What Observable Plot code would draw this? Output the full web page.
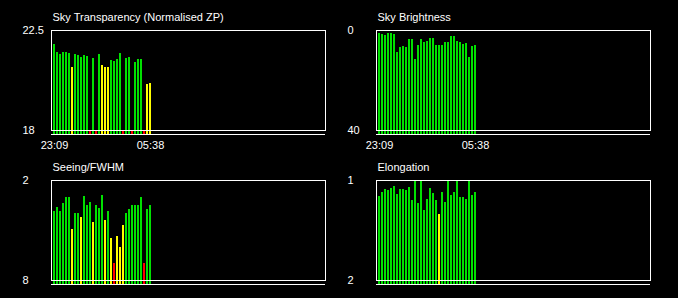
<!DOCTYPE html>
<html><head><meta charset="utf-8">
<script src="https://cdn.jsdelivr.net/npm/d3@7"></script>
<script src="https://cdn.jsdelivr.net/npm/@observablehq/plot@0.6"></script>
<style>
html,body{margin:0;padding:0;background:#000;width:678px;height:298px;overflow:hidden}
#wrap{position:relative;width:678px;height:298px}
.panel{position:absolute}
</style></head><body><div id="wrap"></div>
<script>
// time labels placed at bar index
const xTickIndex = [0, 32];
const xTickLabels = ["23:09", "05:38"];

const transparency = [21.87,21.51,21.42,21.51,21.51,21.47,20.84,21.42,21.37,21.29,21.37,21.33,18,21.24,18,21.42,20.93,20.84,20.84,21.15,21.11,21.2,21.47,18,21.24,21.29,18,21.06,21.2,21.2,18,20.07,20.12];
const transparencyStatus = "GGGGGGYGGGGGRGRGYYYGGGGRGGRGGGRYY".split("");

const brightness = [1.1,1.5,1.9,1.1,1.1,1.5,8.7,6.7,6.3,6.7,3.5,3.5,11.5,5.9,3.5,4.7,4.3,3.1,3.1,5.9,5.9,5.9,4.7,4.7,2.3,2.3,4.3,4.7,5.5,5.1,10.7,6.3,5.9];
const brightnessStatus = "GGGGGGGGGGGGGGGGGGGGGGGGGGGGGGGGG".split("");

const seeing = [3.86,3.62,3.86,3.38,3.02,3.02,4.94,3.98,3.98,4.22,2.96,3.5,3.32,4.52,3.5,3.68,2.9,4.4,3.86,5.48,6.98,5.36,6.02,4.7,3.98,3.74,3.5,3.5,3.5,3.02,6.98,3.74,3.5];
const seeingStatus = "GGGGGGYGGYGGGYGGGYGYRYYYGGGGGGRGG".split("");

const elongation = [1.16,1.12,1.09,1.10,1.08,1.06,1.14,1.09,1.09,1.10,1.07,1.20,1.00,1.23,1.00,1.30,1.19,1.08,1.13,1.20,1.34,1.12,1.22,1.00,1.15,1.12,1.00,1.17,1.17,1.19,1.00,1.15,1.12];
const elongationStatus = "GGGGGGGGGGGGGGGGGGGGYGGGGGGGGGGGG".split("");

const titles = ["Sky Transparency (Normalised ZP)", "Sky Brightness", "Seeing/FWHM", "Elongation"];
// [bottom value, top value]
const yRanges = [[18, 22.5], [40, 0], [8, 2], [2, 1]];
const yTickLabels = [["18", "22.5"], ["40", "0"], ["8", "2"], ["2", "1"]];

const statusColors = {domain: ["G", "Y", "R"], range: ["#00e000", "#ffff00", "#ff0000"]};

const series = [
  [transparency, transparencyStatus],
  [brightness, brightnessStatus],
  [seeing, seeingStatus],
  [elongation, elongationStatus]
];

const wrap = document.getElementById("wrap");
const xDom = [-1, 90.33];
const font = "Arial, 'Liberation Sans', sans-serif";

series.forEach(([vals, stat], k) => {
  const [bottom, top] = yRanges[k];
  const base = bottom + (bottom - top) * 0.04;
  const data = vals.map((v, i) => ({i, v, s: stat[i]}));
  const showX = k < 2;
  const marks = [
    Plot.rect(data, {x1: d => d.i - 1/3, x2: d => d.i + 1/3, y1: base, y2: "v", fill: "s", shapeRendering: "crispEdges"}),
    Plot.rect([0], {x1: xDom[0], x2: xDom[1], y1: bottom, y2: top, fill: "none", stroke: "white", strokeWidth: 1, shapeRendering: "crispEdges"}),
    Plot.ruleY([base], {x1: xDom[0], x2: xDom[1], stroke: "white", strokeWidth: 1, shapeRendering: "crispEdges"}),
    Plot.text([titles[k]], {x: xDom[0], y: top, dx: 1, dy: -13, textAnchor: "start", fill: "white", fontSize: 11}),
    Plot.text([bottom, top], {x: xDom[0], y: d => d, text: (d, i) => yTickLabels[k][i], dx: -29, textAnchor: "start", fill: "white", fontSize: 11})
  ];
  if (showX) {
    marks.push(Plot.text(xTickIndex, {x: d => d, y: base, text: (d, i) => xTickLabels[i], dy: 11, textAnchor: "middle", fill: "white", fontSize: 11}));
  }
  const chart = Plot.plot({
    width: 345, height: 150, margin: 0,
    style: {background: "transparent", color: "white", fontFamily: font, fontSize: "11px", overflow: "visible"},
    x: {domain: xDom, range: [51, 325], axis: null},
    y: {domain: [bottom, top], range: [130, 30], axis: null},
    color: statusColors,
    marks
  });
  const div = document.createElement("div");
  div.className = "panel";
  div.style.left = (k % 2 ? 325 : 0) + "px";
  div.style.top = (k < 2 ? 0 : 150) + "px";
  div.appendChild(chart);
  wrap.appendChild(div);
});
</script></body></html>
